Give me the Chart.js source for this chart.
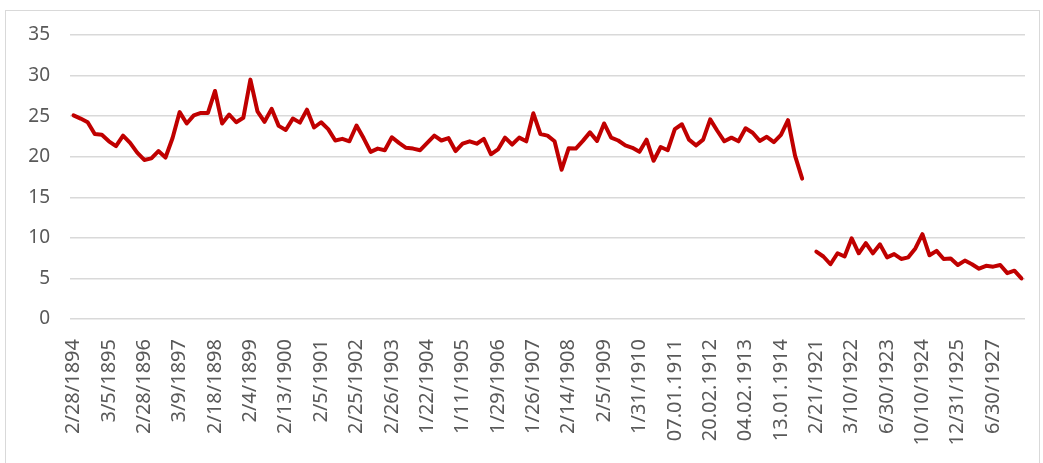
<!DOCTYPE html>
<html>
<head>
<meta charset="utf-8">
<script src="https://cdn.jsdelivr.net/npm/chart.js@4.4.1/dist/chart.umd.min.js"></script>
<style>
  html, body { margin: 0; padding: 0; background: #fff; }
  #frame { position: absolute; left: 5px; top: 10px; width: 1035px; height: 470px; border: 1px solid #d9d9d9; box-sizing: border-box; }
  #wrap { position: absolute; left: 0; top: 0; width: 1043px; height: 463px; }
</style>
</head>
<body>
<div id="frame"></div>
<div id="wrap"><canvas id="price_Chart" width="1043" height="463"></canvas></div>
<script>
// every 5th category carries a label
const tickLabels = ['2/28/1894', '3/5/1895', '2/28/1896', '3/9/1897', '2/18/1898', '2/4/1899',
    '2/13/1900', '2/5/1901', '2/25/1902', '2/26/1903', '1/22/1904', '1/11/1905', '1/29/1906',
    '1/26/1907', '2/14/1908', '2/5/1909', '1/31/1910', '07.01.1911', '20.02.1912', '04.02.1913',
    '13.01.1914', '2/21/1921', '3/10/1922', '6/30/1923', '10/10/1924', '12/31/1925', '6/30/1927'];

// 1894 - 1914
const valuesPre = [25.1, 24.7, 24.25, 22.8, 22.7, 21.9, 21.3, 22.6, 21.7, 20.5,
    19.6, 19.8, 20.7, 19.9, 22.3, 25.5, 24.1, 25.1, 25.4, 25.4,
    28.1, 24.1, 25.2, 24.25, 24.8, 29.5, 25.6, 24.3, 25.9, 23.8,
    23.3, 24.7, 24.2, 25.8, 23.6, 24.25, 23.4, 22.0, 22.2, 21.9,
    23.85, 22.3, 20.6, 21.0, 20.8, 22.4, 21.7, 21.1, 21.0, 20.8,
    21.7, 22.6, 22.0, 22.3, 20.7, 21.6, 21.9, 21.6, 22.2, 20.3,
    20.9, 22.35, 21.5, 22.35, 21.9, 25.35, 22.8, 22.6, 21.9, 18.4,
    21.05, 21.0, 21.95, 23.0, 21.95, 24.1, 22.35, 22.0, 21.4, 21.1,
    20.6, 22.1, 19.5, 21.2, 20.8, 23.4, 24.0, 22.1, 21.4, 22.1,
    24.6, 23.2, 21.9, 22.35, 21.9, 23.5, 22.95, 21.95, 22.45, 21.8,
    22.7, 24.5, 20.1, 17.3];

// 1921 - 1927
const valuesPost = [8.3, 7.7, 6.75, 8.1, 7.7, 9.95, 8.1, 9.35, 8.1, 9.2,
    7.6, 8.0, 7.4, 7.6, 8.7, 10.45, 7.85, 8.4, 7.4, 7.45,
    6.65, 7.2, 6.75, 6.2, 6.55, 6.45, 6.65, 5.65, 5.95, 5.0];

const yTicks = [0, 5, 10, 15, 20, 25, 30, 35];

const seriesData = valuesPre.concat([null], valuesPost);
const labels = seriesData.map((v, i) => (i % 5 === 0 ? tickLabels[i / 5] : ''));

const textColor = '#595959';
const fontFamily = "'Noto Sans', 'Liberation Sans', sans-serif";

var ctx = document.getElementById('price_Chart').getContext('2d');
var myChart = new Chart(ctx, {
    type: 'line',
    data: {
        labels: labels,
        datasets: [{
            data: seriesData,
            borderColor: '#C00000',
            borderWidth: 4,
            borderJoinStyle: 'round',
            borderCapStyle: 'round',
            pointRadius: 0,
            tension: 0,
            spanGaps: false,
            fill: false
        }]
    },
    options: {
        responsive: false,
        animation: false,
        layout: { padding: { top: 35, right: 18, bottom: 0, left: 0 } },
        plugins: {
            legend: { display: false },
            title: { display: false },
            tooltip: { enabled: false }
        },
        scales: {
            x: {
                offset: true,
                grid: { display: false },
                border: { display: false },
                ticks: {
                    autoSkip: false,
                    maxRotation: 90,
                    minRotation: 90,
                    padding: 12,
                    color: textColor,
                    font: { size: 20, family: fontFamily }
                },
                afterFit: function (scale) {
                    scale.height = 144;
                    scale.paddingLeft = 0;
                    scale.paddingRight = 0;
                }
            },
            y: {
                min: yTicks[0],
                max: yTicks[yTicks.length - 1],
                afterBuildTicks: function (scale) { scale.ticks = yTicks.map(v => ({ value: v })); },
                grid: { color: '#d9d9d9', lineWidth: 1.5, drawTicks: false },
                border: { display: false },
                ticks: {
                    padding: 20,
                    color: textColor,
                    font: { size: 19, family: fontFamily }
                },
                afterFit: function (scale) { scale.width = 70; }
            }
        }
    }
});
</script>
</body>
</html>
